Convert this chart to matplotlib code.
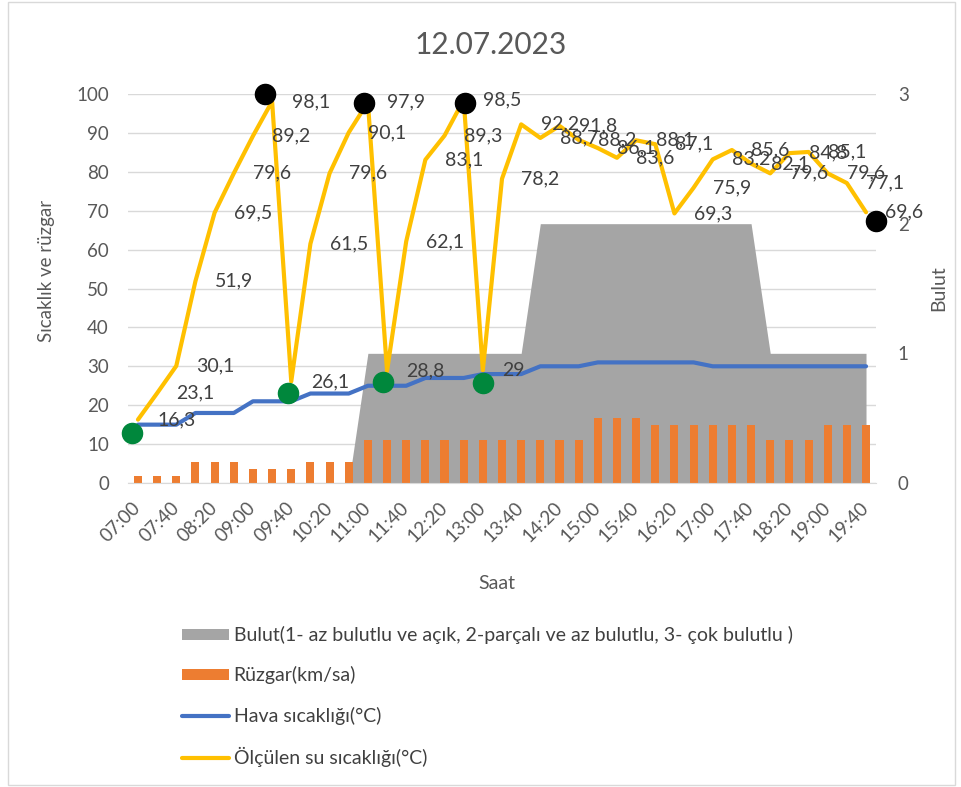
import numpy as np
import matplotlib.pyplot as plt
from matplotlib.patches import Rectangle

plt.rcParams['font.family'] = ['Lato', 'DejaVu Sans']

# saatler, 20 dakikada bir
saat = ['07:00', '07:20', '07:40', '08:00', '08:20', '08:40', '09:00', '09:20', '09:40', '10:00',
        '10:20', '10:40', '11:00', '11:20', '11:40', '12:00', '12:20', '12:40', '13:00', '13:20',
        '13:40', '14:00', '14:20', '14:40', '15:00', '15:20', '15:40', '16:00', '16:20', '16:40',
        '17:00', '17:20', '17:40', '18:00', '18:20', '18:40', '19:00', '19:20', '19:40']

su = [16.3, 23.1, 30.1, 51.9, 69.5, 79.6, 89.2, 98.1, 26.1, 61.5,
      79.6, 90.1, 97.9, 28.8, 62.1, 83.1, 89.3, 98.5, 29, 78.2,
      92.2, 88.7, 91.8, 88.2, 86.1, 83.6, 88.1, 87.1, 69.3, 75.9,
      83.2, 85.6, 82.1, 79.6, 84.8, 85.1, 79.6, 77.1, 69.6]

hava = [15, 15, 15, 18, 18, 18, 21, 21, 21, 23,
        23, 23, 25, 25, 25, 27, 27, 27, 28, 28,
        28, 30, 30, 30, 31, 31, 31, 31, 31, 31,
        30, 30, 30, 30, 30, 30, 30, 30, 30]

ruzgar = [1.8, 1.8, 1.8, 5.5, 5.5, 5.5, 3.7, 3.7, 3.7, 5.5,
          5.5, 5.5, 11.1, 11.1, 11.1, 11.1, 11.1, 11.1, 11.1, 11.1,
          11.1, 11.1, 11.1, 11.1, 16.7, 16.7, 16.7, 14.8, 14.8, 14.8,
          14.8, 14.8, 14.8, 11.1, 11.1, 11.1, 14.8, 14.8, 14.8]

bulut = [0, 0, 0, 0, 0, 0, 0, 0, 0, 0,
         0, 0, 1, 1, 1, 1, 1, 1, 1, 1,
         1, 2, 2, 2, 2, 2, 2, 2, 2, 2,
         2, 2, 2, 1, 1, 1, 1, 1, 1]

# elle konmus noktalar (en yuksek / en dusuk)
siyah_x = [6.65, 11.8, 17.05, 38.5]
siyah_y = [100, 97.8, 97.8, 67.4]
yesil_x = [-0.3, 7.85, 12.8, 18.0]
yesil_y = [12.8, 23.1, 25.9, 25.6]

x = np.arange(len(saat))
gri_yazi = '#595959'

fig = plt.figure(figsize=(9.61, 7.87), dpi=100)
ax = fig.add_axes([128.4/961, 1-483/787, 747.2/961, 389/787])
ax2 = ax.twinx()

ax.set_xlim(-0.5, len(saat)-0.5)
ax.set_ylim(0, 100)
ax2.set_ylim(0, 3)

ax.set_axisbelow(True)
ax.yaxis.grid(True, color='#D9D9D9', lw=1)

alan = ax.fill_between(x, 0, bulut, transform=ax2.transData, color='#A5A5A5', lw=0, zorder=1)
cubuk = ax.bar(x, ruzgar, width=0.42, color='#ED7D31', zorder=2)
mavi, = ax.plot(x, hava, color='#4472C4', lw=3, solid_capstyle='round', zorder=3)
sari, = ax.plot(x, su, color='#FFC000', lw=3, solid_capstyle='round', zorder=4)

for i, v in zip(x, su):
    ax.annotate(f'{v:g}'.replace('.', ','), (i, v), xytext=(14, 0), textcoords='offset points',
                ha='left', va='center', fontsize=14, color='#404040', zorder=6)

ax.scatter(siyah_x, siyah_y, s=210, color='black', zorder=7, clip_on=False)
ax.scatter(yesil_x, yesil_y, s=210, color='#00873C', zorder=7, clip_on=False)

ax.set_xticks(x[::2])
ax.set_xticklabels(saat[::2], rotation=45, ha='right', va='center', rotation_mode='anchor')
ax.set_yticks(range(0, 101, 10))
ax2.set_yticks([0, 1, 2, 3])
ax.tick_params(axis='x', length=0, pad=16, labelsize=13.5, labelcolor=gri_yazi)
ax.tick_params(axis='y', length=0, pad=14, labelsize=13.5, labelcolor=gri_yazi)
ax2.tick_params(axis='y', length=0, pad=16, labelsize=13.5, labelcolor=gri_yazi)

for a in (ax, ax2):
    for s in a.spines.values():
        s.set_visible(False)
ax.spines['bottom'].set_visible(True)
ax.spines['bottom'].set_color('#D9D9D9')

ax.set_xlabel('Saat', fontsize=14, color=gri_yazi)
ax.xaxis.set_label_coords(0.493, -0.236)
ax.set_ylabel('Sıcaklık ve rüzgar', fontsize=13.5, color=gri_yazi)
ax.yaxis.set_label_coords(-0.098, 0.545)
ax2.set_ylabel('Bulut', fontsize=14, color=gri_yazi)
ax2.yaxis.set_label_coords(1.073, 0.5)

fig.text(491/961, 1-45/787, '12.07.2023', ha='center', va='center', fontsize=21.5, color=gri_yazi)

fig.legend([alan, cubuk, mavi, sari],
           ['Bulut(1- az bulutlu ve açık, 2-parçalı ve az bulutlu, 3- çok bulutlu )',
            'Rüzgar(km/sa)', 'Hava sıcaklığı(°C)', 'Ölçülen su sıcaklığı(°C)'],
           loc='upper left', bbox_to_anchor=(182/961, 1-626/787), frameon=False,
           fontsize=14, labelcolor='#404040', handlelength=2.4, handleheight=0.5, handletextpad=0.25,
           labelspacing=1.15, borderpad=0, borderaxespad=0)

fig.patches.append(Rectangle((8/961, 2/787), 947/961, 783/787, transform=fig.transFigure,
                             fill=False, edgecolor='#D9D9D9', lw=1))

fig.savefig('out.png', dpi=100)
